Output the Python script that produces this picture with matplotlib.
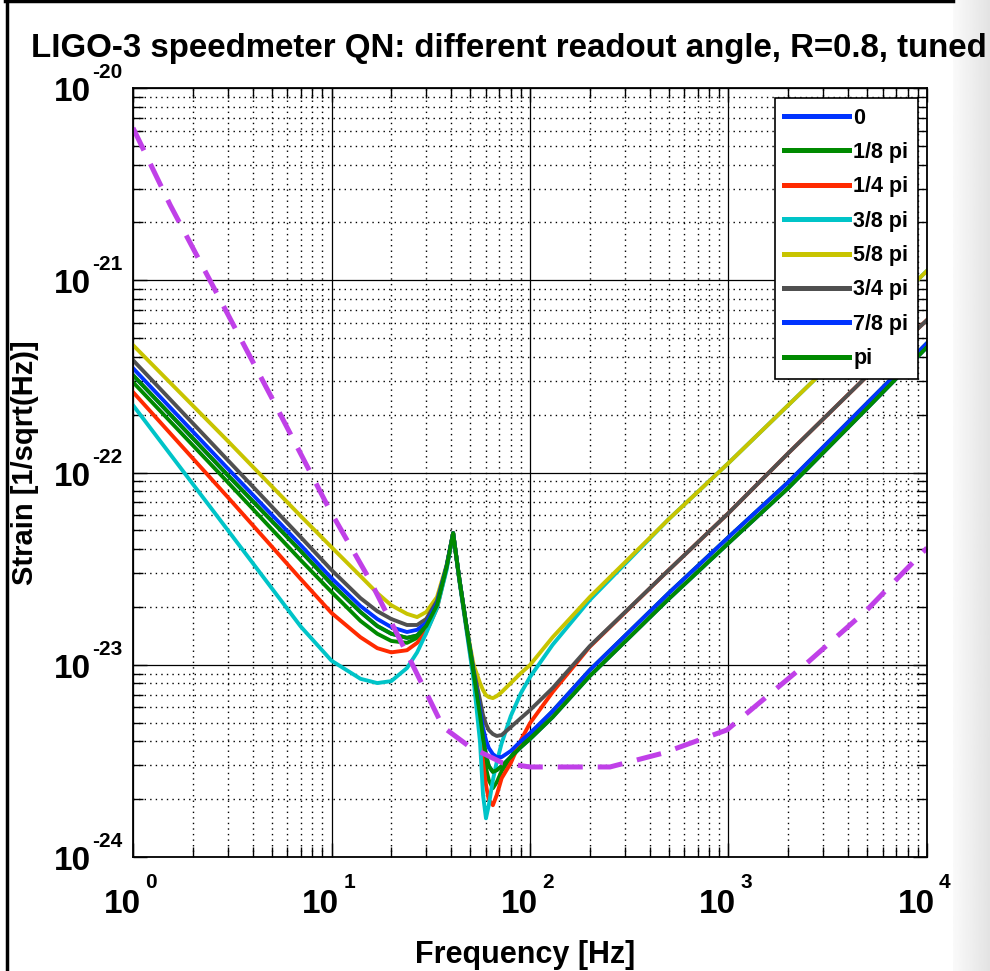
import numpy as np
import matplotlib
matplotlib.use("Agg")
import matplotlib.pyplot as plt
from matplotlib.ticker import LogLocator, NullFormatter
from matplotlib.lines import Line2D

plt.rcParams['font.family'] = ['Liberation Sans', 'DejaVu Sans']
plt.rcParams['font.weight'] = 'bold'

# frequency grid shared by the readout-angle curves [Hz]
freq = [1, 3, 7, 10, 14, 17, 20, 24, 27, 30, 34, 38, 41, 44, 48, 52, 56, 58,
        60, 62, 65, 68, 72, 80, 90, 100, 130, 200, 500, 1000, 2000, 5000, 10000]

# strain noise [1/sqrt(Hz)] for each readout angle
h_0 = [3.21e-22, 9.69e-23, 3.90e-23, 2.63e-23, 1.88e-23, 1.59e-23, 1.45e-23, 1.38e-23,
       1.42e-23, 1.59e-23, 2.04e-23, 3.22e-23, 4.84e-23, 2.82e-23, 1.55e-23, 9.05e-24,
       5.47e-24, 4.15e-24, 3.39e-24, 2.97e-24, 2.77e-24, 2.83e-24, 2.97e-24, 3.31e-24,
       3.73e-24, 4.11e-24, 5.34e-24, 8.73e-24, 2.20e-23, 4.29e-23, 8.30e-23, 2.16e-22, 4.49e-22]
h_1_8 = [2.95e-22, 8.91e-23, 3.50e-23, 2.39e-23, 1.69e-23, 1.45e-23, 1.33e-23, 1.30e-23,
         1.38e-23, 1.55e-23, 2.02e-23, 3.22e-23, 4.84e-23, 2.82e-23, 1.55e-23, 8.94e-24,
         5.15e-24, 3.69e-24, 2.90e-24, 2.51e-24, 2.28e-24, 2.45e-24, 2.80e-24, 3.31e-24,
         3.91e-24, 4.31e-24, 5.74e-24, 9.38e-24, 2.36e-23, 4.61e-23, 8.91e-23, 2.30e-22, 4.71e-22]
h_1_4 = [2.62e-22, 7.45e-23, 2.79e-23, 1.86e-23, 1.39e-23, 1.22e-23, 1.16e-23, 1.19e-23,
         1.30e-23, 1.48e-23, 1.97e-23, 3.18e-23, 4.84e-23, 2.79e-23, 1.52e-23, 8.73e-24,
         4.57e-24, 3.12e-24, 2.37e-24, 1.98e-24, 1.86e-24, 2.10e-24, 2.57e-24, 3.08e-24,
         4.06e-24, 4.97e-24, 7.21e-24, 1.24e-23, 3.11e-23, 6.15e-23, 1.26e-22, 3.18e-22, 6.21e-22]
h_3_8 = [2.24e-22, 5.02e-23, 1.58e-23, 1.05e-23, 8.45e-24, 8.03e-24, 8.22e-24, 9.61e-24,
         1.16e-23, 1.46e-23, 1.97e-23, 3.11e-23, 4.84e-23, 2.76e-23, 1.48e-23, 8.32e-24,
         3.96e-24, 2.10e-24, 1.59e-24, 1.86e-24, 2.51e-24, 3.12e-24, 3.91e-24, 5.41e-24,
         7.12e-24, 8.63e-24, 1.27e-23, 2.17e-23, 5.72e-23, 1.12e-22, 2.24e-22, 5.60e-22, 1.12e-21]
h_5_8 = [4.60e-22, 1.46e-22, 5.93e-23, 4.09e-23, 2.89e-23, 2.36e-23, 2.04e-23, 1.84e-23,
         1.77e-23, 1.88e-23, 2.25e-23, 3.30e-23, 4.84e-23, 2.82e-23, 1.55e-23, 9.97e-24,
         8.03e-24, 7.38e-24, 6.95e-24, 6.79e-24, 6.71e-24, 6.87e-24, 7.21e-24, 8.03e-24,
         9.05e-24, 9.97e-24, 1.39e-23, 2.25e-23, 5.72e-23, 1.12e-22, 2.24e-22, 5.60e-22, 1.12e-21]
h_3_4 = [3.84e-22, 1.16e-22, 4.61e-23, 3.11e-23, 2.22e-23, 1.90e-23, 1.73e-23, 1.61e-23,
         1.61e-23, 1.73e-23, 2.15e-23, 3.26e-23, 4.84e-23, 2.82e-23, 1.55e-23, 9.38e-24,
         6.55e-24, 5.47e-24, 4.91e-24, 4.57e-24, 4.36e-24, 4.26e-24, 4.31e-24, 4.74e-24,
         5.28e-24, 5.81e-24, 7.56e-24, 1.25e-23, 3.11e-23, 6.15e-23, 1.26e-22, 3.18e-22, 6.21e-22]
h_7_8 = [3.49e-22, 1.05e-22, 4.19e-23, 2.82e-23, 2.02e-23, 1.73e-23, 1.57e-23, 1.48e-23,
         1.52e-23, 1.65e-23, 2.09e-23, 3.26e-23, 4.84e-23, 2.82e-23, 1.55e-23, 9.16e-24,
         5.81e-24, 4.68e-24, 4.06e-24, 3.69e-24, 3.43e-24, 3.31e-24, 3.31e-24, 3.56e-24,
         4.01e-24, 4.41e-24, 5.74e-24, 9.38e-24, 2.36e-23, 4.61e-23, 8.91e-23, 2.30e-22, 4.71e-22]
h_pi = list(h_0)

labels = ['0', '1/8 pi', '1/4 pi', '3/8 pi', '5/8 pi', '3/4 pi', '7/8 pi', 'pi']
curves = [h_0, h_1_8, h_1_4, h_3_8, h_5_8, h_3_4, h_7_8, h_pi]
colors = ['#0033ff', '#008a00', '#ff2a00', '#00c4c8', '#c8c400', '#505050', '#0033ff', '#008a00']

# dashed reference curve
ref_freq = [1, 1.54, 2.44, 5.07, 9.8, 15.6, 24.9, 36.5, 49.9, 73.1, 100, 253, 468,
            982, 2483, 4988, 10000]
ref_h = [6.2e-21, 2.46e-21, 1.0e-21, 2.38e-22, 6.38e-23, 2.76e-23, 1.06e-23, 4.74e-24,
         3.73e-24, 3.08e-24, 2.94e-24, 2.94e-24, 3.47e-24, 4.58e-24, 1.02e-23, 1.93e-23, 4.05e-23]

fig = plt.figure(figsize=(9.9, 9.71), dpi=100)
ax = fig.add_axes([133/990, 1-857/971, (927-133)/990, (857-88)/971])

for h, c, lab in zip(curves, colors, labels):
    ax.loglog(freq, h, color=c, lw=2.8, label=lab)
ax.loglog(ref_freq, ref_h, color='#c040e8', lw=3.6, ls=(0, (5, 3)))

ax.set_xlim(1, 1e4)
ax.set_ylim(1e-24, 1e-20)

ax.xaxis.set_minor_locator(LogLocator(base=10, subs=np.arange(2, 10), numticks=20))
ax.yaxis.set_minor_locator(LogLocator(base=10, subs=np.arange(2, 10), numticks=20))
ax.xaxis.set_major_formatter(NullFormatter())
ax.xaxis.set_minor_formatter(NullFormatter())
ax.yaxis.set_major_formatter(NullFormatter())
ax.yaxis.set_minor_formatter(NullFormatter())
ax.tick_params(which='both', direction='in', top=True, right=True, color='k')
ax.tick_params(which='major', length=10, width=1)
ax.tick_params(which='minor', length=7, width=1)
ax.grid(True, which='major', color='k', lw=0.9, ls='-')
ax.grid(True, which='minor', color='k', lw=1.0, ls=(0, (1, 3)))
for s in ax.spines.values():
    s.set_linewidth(1.3)

# MATLAB-style tick labels: big "10" with a small exponent
for k in range(0, 5):
    ax.annotate('10', xy=(10**k, 0), xycoords=('data', 'axes fraction'),
                xytext=(8, -56), textcoords='offset pixels', ha='right', va='baseline',
                fontsize=24, fontweight='bold')
    ax.annotate(str(k), xy=(10**k, 0), xycoords=('data', 'axes fraction'),
                xytext=(12, -31), textcoords='offset pixels', ha='left', va='baseline',
                fontsize=15, fontweight='bold')
for k in range(-24, -19):
    ax.annotate('10', xy=(0, 10.0**k), xycoords=('axes fraction', 'data'),
                xytext=(-42, -13), textcoords='offset pixels', ha='right', va='baseline',
                fontsize=24, fontweight='bold')
    ax.annotate(str(k), xy=(0, 10.0**k), xycoords=('axes fraction', 'data'),
                xytext=(-41, 10), textcoords='offset pixels', ha='left', va='baseline',
                fontsize=15, fontweight='bold')

leg = ax.legend(loc='upper right', bbox_to_anchor=(918/990, 1-98/971),
                bbox_transform=fig.transFigure, borderaxespad=0, fancybox=False,
                framealpha=1, edgecolor='k', handlelength=3.0, handletextpad=0.2,
                labelspacing=0.62, borderpad=0.45, prop={'size': 15.5, 'weight': 'bold'})
leg.get_frame().set_linewidth(1.2)
for line in leg.get_lines():
    line.set_linewidth(3.6)

fig.text(509/990, 1-57/971, 'LIGO-3 speedmeter QN: different readout angle, R=0.8, tuned',
         ha='center', va='baseline', fontsize=23.8, fontweight='bold')
fig.text(525/990, 1-963/971, 'Frequency [Hz]', ha='center', va='baseline',
         fontsize=22, fontweight='bold')
fig.text(25/990, 1-463/971, 'Strain [1/sqrt(Hz)]', ha='center', va='center',
         rotation=90, fontsize=21, fontweight='bold')

# window frame and shaded right edge of the screenshot
gax = fig.add_axes([953/990, 0, 37/990, 1], zorder=-1)
gax.imshow(np.linspace(0.98, 0.89, 50).reshape(1, -1), cmap='gray', vmin=0, vmax=1,
           aspect='auto', extent=[0, 1, 0, 1])
gax.axis('off')
fig.add_artist(Line2D([6.5/990, 6.5/990], [0, 1], transform=fig.transFigure, color='k', lw=2.5))
fig.add_artist(Line2D([5/990, 953/990], [1-1.5/971, 1-1.5/971], transform=fig.transFigure,
                      color='k', lw=2.5))

fig.savefig('out.png', dpi=100)
